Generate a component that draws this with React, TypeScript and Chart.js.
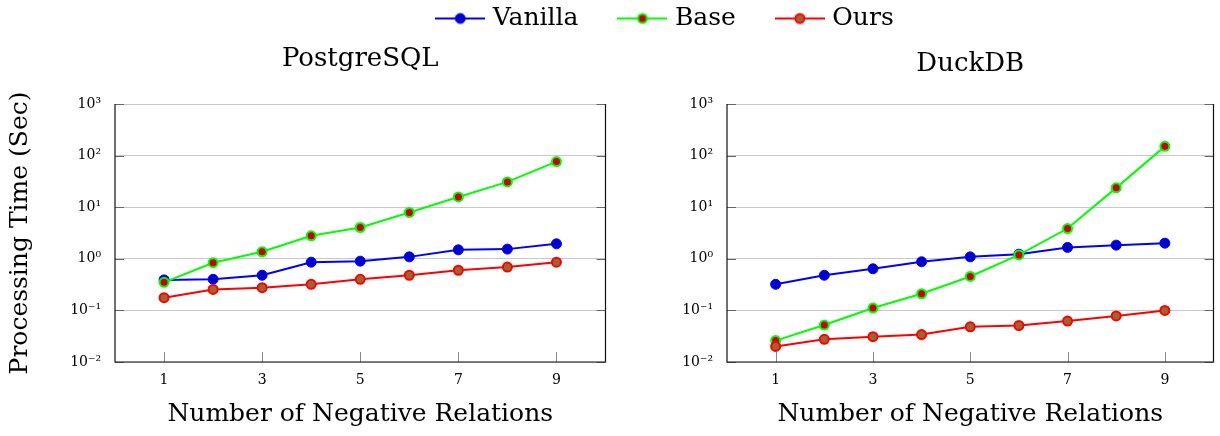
import React, { useEffect, useRef } from 'react';
import { Chart, registerables } from 'chart.js';

Chart.register(...registerables);

const FONT = "'DejaVu Serif', serif";

// ---- data ----
const relations = [1, 2, 3, 4, 5, 6, 7, 8, 9];
const xTickValues = [1, 3, 5, 7, 9];
const yTickValues = [0.01, 0.1, 1, 10, 100, 1000];
const yTickLabels = ['10⁻²', '10⁻¹', '10⁰', '10¹', '10²', '10³'];
const seriesNames = ['Vanilla', 'Base', 'Ours'];

const pgVanilla = [0.39, 0.4, 0.48, 0.86, 0.9, 1.09, 1.49, 1.54, 1.95];
const pgBase = [0.35, 0.84, 1.37, 2.79, 4.04, 7.9, 15.8, 30.9, 76.5];
const pgOurs = [0.176, 0.255, 0.275, 0.32, 0.4, 0.48, 0.6, 0.69, 0.86];

const duckVanilla = [0.32, 0.48, 0.64, 0.875, 1.09, 1.23, 1.66, 1.84, 2.01];
const duckBase = [0.026, 0.052, 0.111, 0.21, 0.455, 1.19, 3.86, 23.7, 151];
const duckOurs = [0.02, 0.0275, 0.031, 0.034, 0.048, 0.051, 0.062, 0.078, 0.1];

// ---- styles ----
const lineColors = ['#0000ff', '#00ff00', '#ff0000'];
const fillColors = ['#0000cc', '#cc0000', '#996633'];
const pointRadii = [5, 4.5, 4.5];
const pointBorders = [1, 2, 2];

const framePlugin = {
  id: 'frame',
  beforeDatasetsDraw(chart: any) {
    const { ctx, chartArea: a, scales } = chart;
    ctx.save();
    ctx.lineWidth = 1;
    ctx.strokeStyle = '#666';
    for (const v of yTickValues) {
      const y = Math.round(scales.y.getPixelForValue(v)) + 0.5;
      ctx.beginPath();
      ctx.moveTo(a.left, y);
      ctx.lineTo(a.left + 9, y);
      ctx.moveTo(a.right, y);
      ctx.lineTo(a.right - 9, y);
      ctx.stroke();
    }
    ctx.strokeStyle = '#888';
    for (const v of xTickValues) {
      const x = Math.round(scales.x.getPixelForValue(v)) + 0.5;
      ctx.beginPath();
      ctx.moveTo(x, a.bottom);
      ctx.lineTo(x, a.bottom - 10);
      ctx.stroke();
    }
    ctx.strokeStyle = '#111';
    ctx.lineWidth = 1.2;
    ctx.beginPath();
    ctx.moveTo(a.left, a.top);
    ctx.lineTo(a.left, a.bottom);
    ctx.lineTo(a.right, a.bottom);
    ctx.lineTo(a.right, a.top);
    ctx.stroke();
    ctx.restore();
  },
};

function makeDatasets(series: number[][]) {
  return series.map((vals, i) => ({
    label: seriesNames[i],
    data: relations.map((r, j) => ({ x: r, y: vals[j] })),
    borderColor: lineColors[i],
    backgroundColor: fillColors[i],
    pointBackgroundColor: fillColors[i],
    pointBorderColor: lineColors[i],
    pointRadius: pointRadii[i],
    pointBorderWidth: pointBorders[i],
    borderWidth: 2,
    order: 3 - i,
    tension: 0,
  }));
}

function Panel(props: {
  title: string;
  series: number[][];
  showYTitle: boolean;
  width: number;
  left: number;
  titleTop: number;
  padRight: number;
}) {
  const ref = useRef<HTMLCanvasElement>(null);
  useEffect(() => {
    const chart = new Chart(ref.current!, {
      type: 'line',
      data: { datasets: makeDatasets(props.series) as any },
      options: {
        animation: false,
        responsive: false,
        devicePixelRatio: 1,
        layout: { padding: { left: 0, right: props.padRight, top: 0, bottom: 0 } },
        plugins: {
          legend: { display: false },
          tooltip: { enabled: false },
          title: { display: false },
        },
        scales: {
          x: {
            type: 'linear',
            min: 0,
            max: 10,
            afterBuildTicks: (s: any) => {
              s.ticks = xTickValues.map((v) => ({ value: v }));
            },
            afterFit: (s: any) => {
              s.height = 74;
            },
            grid: { display: false, drawTicks: false },
            border: { display: false },
            ticks: {
              color: '#000',
              font: { family: FONT, size: 14 },
              padding: 10,
              maxRotation: 0,
              callback: (v: any) => String(v),
            },
            title: {
              display: true,
              text: 'Number of Negative Relations',
              color: '#000',
              font: { family: FONT, size: 25, lineHeight: 1.2 },
              padding: { top: 0, bottom: 7 },
            },
          },
          top: {
            type: 'linear',
            position: 'top',
            min: 0,
            max: 10,
            afterFit: (s: any) => {
              s.height = 104;
            },
            grid: { display: false, drawTicks: false },
            border: { display: false },
            ticks: { display: false },
            title: {
              display: true,
              text: props.title,
              color: '#000',
              font: { family: FONT, size: 26, lineHeight: 1.2 },
              padding: { top: props.titleTop, bottom: 0 },
            },
          },
          y: {
            type: 'logarithmic',
            min: 0.01,
            max: 1000,
            afterBuildTicks: (s: any) => {
              s.ticks = yTickValues.map((v) => ({ value: v }));
            },
            afterFit: (s: any) => {
              s.width = 115;
            },
            grid: { color: '#c8c8c8', lineWidth: 1, drawTicks: false },
            border: { display: false },
            ticks: {
              color: '#000',
              font: { family: FONT, size: 14 },
              padding: 14,
              callback: (v: any) => {
                const idx = yTickValues.indexOf(Number(v));
                return idx >= 0 ? yTickLabels[idx] : '';
              },
            },
            title: {
              display: props.showYTitle,
              text: 'Processing Time (Sec)',
              color: '#000',
              font: { family: FONT, size: 25, lineHeight: 1.2 },
              padding: { top: 5, bottom: 0 },
            },
          },
        },
      },
      plugins: [framePlugin],
    });
    return () => chart.destroy();
  }, []);
  return (
    <canvas
      ref={ref}
      width={props.width}
      height={436}
      style={{ position: 'absolute', left: props.left, top: 0, width: props.width, height: 436 }}
    />
  );
}

function makeLegendIcon(i: number) {
  const c = document.createElement('canvas');
  c.width = 50;
  c.height = 14;
  const ctx = c.getContext('2d')!;
  ctx.strokeStyle = lineColors[i];
  ctx.lineWidth = 2;
  ctx.beginPath();
  ctx.moveTo(0, 7);
  ctx.lineTo(50, 7);
  ctx.stroke();
  ctx.beginPath();
  ctx.arc(25, 7, pointRadii[i], 0, Math.PI * 2);
  ctx.fillStyle = fillColors[i];
  ctx.fill();
  ctx.lineWidth = pointBorders[i];
  ctx.strokeStyle = lineColors[i];
  ctx.stroke();
  return c;
}

function Legend() {
  const ref = useRef<HTMLCanvasElement>(null);
  useEffect(() => {
    const icons = seriesNames.map((_, i) => makeLegendIcon(i));
    const chart = new Chart(ref.current!, {
      type: 'line',
      data: {
        datasets: seriesNames.map((n, i) => ({
          label: n,
          data: [],
          borderColor: lineColors[i],
          backgroundColor: fillColors[i],
        })),
      },
      options: {
        animation: false,
        responsive: false,
        devicePixelRatio: 1,
        layout: { padding: { left: 114 } },
        scales: { x: { display: false }, y: { display: false } },
        plugins: {
          tooltip: { enabled: false },
          legend: {
            display: true,
            position: 'top',
            labels: {
              usePointStyle: true,
              pointStyleWidth: 40,
              padding: 44,
              color: '#000',
              font: { family: FONT, size: 25 },
              generateLabels: () =>
                seriesNames.map((n, i) => ({
                  text: n,
                  pointStyle: icons[i] as any,
                  fillStyle: fillColors[i],
                  strokeStyle: lineColors[i],
                  lineWidth: 0,
                  hidden: false,
                  datasetIndex: i,
                })),
            },
          },
        },
      },
    });
    return () => chart.destroy();
  }, []);
  return (
    <canvas
      ref={ref}
      width={1220}
      height={300}
      style={{ position: 'absolute', left: 0, top: -38, width: 1220, height: 300 }}
    />
  );
}

export default function App() {
  return (
    <div
      style={{
        position: 'fixed',
        left: 0,
        top: 0,
        width: 1220,
        height: 436,
        background: '#fff',
        overflow: 'hidden',
      }}
    >
      <Panel
        title="PostgreSQL"
        series={[pgVanilla, pgBase, pgOurs]}
        showYTitle={true}
        width={612}
        left={0}
        titleTop={44}
        padRight={4}
      />
      <Panel
        title="DuckDB"
        series={[duckVanilla, duckBase, duckOurs]}
        showYTitle={false}
        width={608}
        left={612}
        titleTop={49}
        padRight={1}
      />
      <Legend />
    </div>
  );
}
